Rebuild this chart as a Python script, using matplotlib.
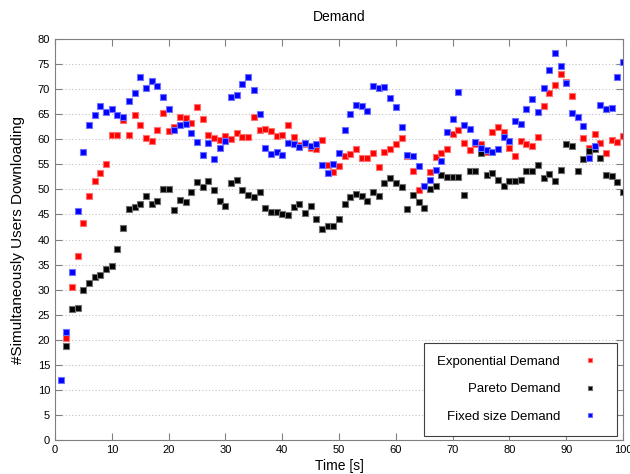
import numpy as np
import matplotlib
matplotlib.use("Agg")
import matplotlib.pyplot as plt

plt.rcParams['font.family'] = ['Liberation Sans', 'DejaVu Sans']

# ---- data ----
x_fixed = np.arange(1, 101)
x_other = np.arange(2, 101)

exp_demand = [
    20.3, 30.5, 36.7, 43.3, 48.6, 51.6, 53.2, 55.1, 60.9,
    60.9, 63.8, 60.9, 64.8, 62.9, 60.2, 59.6, 61.8, 65.3, 61.7,
    62.5, 64.4, 64.3, 63.3, 66.5, 64.0, 60.9, 60.2, 59.8, 60.7,
    60.1, 61.3, 60.5, 60.5, 64.4, 61.8, 62.1, 61.7, 60.7, 60.9,
    62.8, 60.5, 58.9, 59.1, 58.3, 58.1, 59.8, 54.9, 53.4, 54.6,
    56.6, 57.0, 58.1, 56.2, 56.2, 57.3, 54.4, 57.5, 58.1, 59.1,
    60.2, 56.7, 53.7, 49.9, 50.7, 53.4, 56.5, 57.2, 58.1, 61.0,
    61.8, 59.3, 57.9, 59.0, 59.0, 57.5, 61.4, 62.4, 61.4, 58.2,
    56.7, 59.7, 59.1, 58.6, 60.5, 66.7, 69.3, 70.9, 73.1, 71.5,
    68.7, 64.5, 60.2, 58.2, 61.1, 59.2, 57.2, 59.8, 59.5, 60.7,
]

pareto_demand = [
    18.7, 26.1, 26.4, 29.9, 31.3, 32.5, 32.9, 34.1, 34.7,
    38.1, 42.2, 46.0, 46.5, 47.0, 48.7, 47.0, 47.6, 50.1, 50.0,
    45.9, 47.9, 47.5, 49.5, 51.5, 50.5, 51.7, 49.9, 47.6, 46.7,
    51.2, 51.9, 49.9, 48.8, 48.5, 49.4, 46.3, 45.4, 45.4, 45.0,
    44.8, 46.4, 47.0, 45.3, 46.6, 44.0, 42.0, 42.7, 42.7, 44.0,
    47.0, 48.5, 49.1, 48.6, 47.6, 49.5, 48.6, 51.3, 52.2, 51.3,
    50.4, 46.1, 48.8, 47.5, 46.3, 50.1, 50.6, 52.8, 52.5, 52.5,
    52.5, 48.9, 53.7, 53.7, 57.2, 52.8, 53.3, 51.8, 50.7, 51.7,
    51.7, 51.8, 53.7, 53.7, 54.9, 52.3, 53.1, 51.7, 53.8, 59.1,
    58.6, 53.7, 56.1, 57.7, 58.1, 56.3, 52.8, 52.7, 51.5, 49.5,
]

fixed_demand = [
    11.9, 21.5, 33.5, 45.6, 57.4, 62.9, 64.8, 66.7, 65.4, 66.1,
    64.8, 64.4, 67.7, 69.3, 72.5, 70.3, 71.6, 70.7, 68.5, 66.0,
    61.8, 62.8, 63.1, 61.2, 59.5, 56.9, 59.2, 56.0, 58.3, 59.7,
    68.5, 68.9, 71.1, 72.5, 69.8, 65.1, 58.2, 57.0, 57.5, 56.9,
    59.3, 59.1, 58.5, 59.3, 58.6, 59.1, 54.9, 53.3, 55.0, 57.3,
    61.8, 65.1, 66.9, 66.7, 65.6, 70.7, 70.2, 70.5, 68.2, 66.5,
    62.5, 56.8, 56.7, 54.7, 50.7, 51.8, 53.8, 55.7, 61.5, 64.0,
    69.4, 62.8, 62.0, 59.4, 58.2, 57.9, 57.5, 58.1, 60.5, 59.7,
    63.7, 63.1, 66.0, 68.1, 65.5, 70.3, 73.9, 77.3, 74.7, 71.2,
    65.3, 64.5, 62.7, 56.3, 58.6, 66.9, 66.0, 66.3, 72.4, 75.5,
]

labels = ["Exponential Demand", "Pareto Demand", "Fixed size Demand"]

# ---- figure ----
fig = plt.figure(figsize=(6.3, 4.74), dpi=100)
ax = fig.add_axes([0.0873, 0.0717, 0.9017, 0.846])

ax.plot(x_other, exp_demand, 's', color='red', ms=3.8, mec='#ff7070', mew=0.8, label=labels[0])
ax.plot(x_other, pareto_demand, 's', color='black', ms=3.8, mec='#707070', mew=0.8, label=labels[1])
ax.plot(x_fixed, fixed_demand, 's', color='blue', ms=3.8, mec='#7070ff', mew=0.8, label=labels[2])

ax.set_xlim(0, 100)
ax.set_ylim(0, 80)
ax.set_xticks(np.arange(0, 101, 10))
ax.set_yticks(np.arange(0, 81, 5))
ax.yaxis.grid(True, linestyle=(0, (1, 2)), color='#c0c0c0', lw=0.8)
ax.tick_params(direction='in', top=True, right=True, length=5, labelsize=8, color='#808080')
for s in ax.spines.values():
    s.set_color('#808080')

ax.set_title("Demand", fontsize=10, pad=13)
ax.set_xlabel("Time [s]", fontsize=10, labelpad=3)
ax.set_ylabel("#Simultaneously Users Downloading", fontsize=11, labelpad=9)

# markers after the labels -> labels end up right-aligned
leg = ax.legend(loc='lower right', bbox_to_anchor=(0.989, 0.01), borderaxespad=0,
                markerfirst=False, fontsize=9.5, labelspacing=1.15, borderpad=1.0,
                handletextpad=1.3, handlelength=2.0, markerscale=0.8,
                fancybox=False, edgecolor='#404040', framealpha=1)
leg.get_frame().set_linewidth(0.8)

fig.savefig("out.png", dpi=100)
